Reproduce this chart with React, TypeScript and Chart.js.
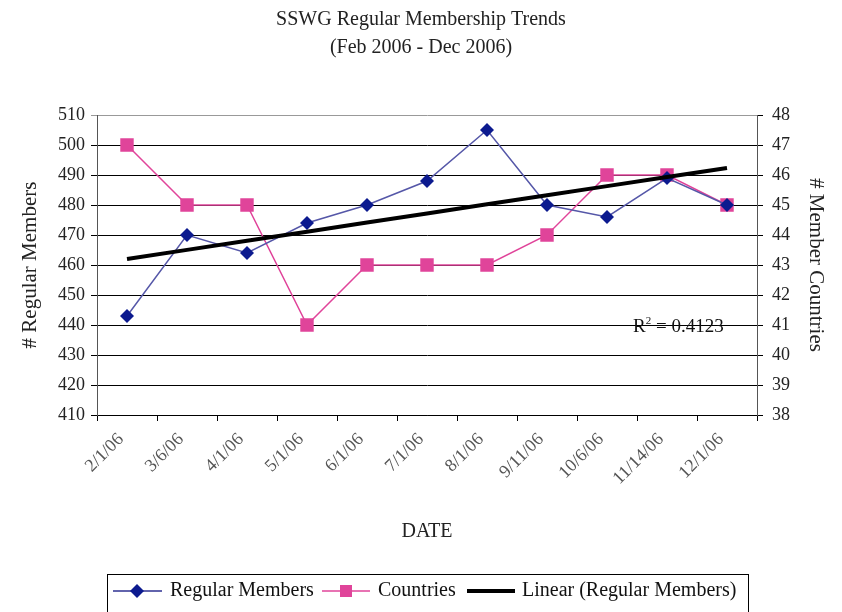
import React, { useEffect, useRef } from "react";
import { Chart, registerables } from "chart.js";

Chart.register(...registerables);

const categories = ["2/1/06", "3/6/06", "4/1/06", "5/1/06", "6/1/06", "7/1/06", "8/1/06", "9/11/06", "10/6/06", "11/14/06", "12/1/06"];
const regularMembers = [443, 470, 464, 474, 480, 488, 505, 480, 476, 489, 480];
const countries = [47, 45, 45, 41, 43, 43, 43, 44, 46, 46, 45];
const r2Label = "0.4123";

const SERIF = "'Liberation Serif', 'DejaVu Serif', serif";

function linearFit(ys: number[]): number[] {
  const n = ys.length;
  const xs = ys.map((_, i) => i + 1);
  const mx = xs.reduce((a, b) => a + b, 0) / n;
  const my = ys.reduce((a, b) => a + b, 0) / n;
  let sxy = 0, sxx = 0;
  for (let i = 0; i < n; i++) { sxy += (xs[i] - mx) * (ys[i] - my); sxx += (xs[i] - mx) ** 2; }
  const b = sxy / sxx;
  const a = my - b * mx;
  return xs.map((x) => a + b * x);
}

const trend = linearFit(regularMembers);

const legendPlugin = {
  id: "customLegend",
  afterDraw(chart: any) {
    const ctx = chart.ctx as CanvasRenderingContext2D;
    ctx.save();
    ctx.strokeStyle = "#000";
    ctx.lineWidth = 1;
    ctx.strokeRect(107.5, 574.5, 641, 45);
    ctx.font = `20px ${SERIF}`;
    ctx.fillStyle = "#111";
    ctx.textBaseline = "middle";
    const cy = 591;
    // item 1
    ctx.strokeStyle = "#2e3192"; ctx.lineWidth = 1.5;
    ctx.beginPath(); ctx.moveTo(113, cy); ctx.lineTo(162, cy); ctx.stroke();
    ctx.fillStyle = "#0c1a8f";
    ctx.beginPath(); ctx.moveTo(130, cy); ctx.lineTo(137, cy - 7); ctx.lineTo(144, cy); ctx.lineTo(137, cy + 7); ctx.closePath(); ctx.fill();
    ctx.fillStyle = "#111";
    ctx.fillText("Regular Members", 170, cy);
    // item 2
    ctx.strokeStyle = "#e0449a"; ctx.lineWidth = 1.5;
    ctx.beginPath(); ctx.moveTo(322, cy); ctx.lineTo(370, cy); ctx.stroke();
    ctx.fillStyle = "#e0449a";
    ctx.fillRect(340, cy - 6, 12, 12);
    ctx.fillStyle = "#111";
    ctx.fillText("Countries", 378, cy);
    // item 3
    ctx.strokeStyle = "#000"; ctx.lineWidth = 4;
    ctx.beginPath(); ctx.moveTo(467, cy); ctx.lineTo(515, cy); ctx.stroke();
    ctx.fillText("Linear (Regular Members)", 522, cy);
    ctx.restore();
  },
};

const r2Plugin = {
  id: "r2Label",
  afterDatasetsDraw(chart: any) {
    const ctx = chart.ctx as CanvasRenderingContext2D;
    const y = chart.scales.y;
    ctx.save();
    ctx.font = `19px ${SERIF}`;
    ctx.fillStyle = "#111";
    ctx.textBaseline = "middle";
    ctx.textAlign = "left";
    const px = 633;
    const py = y.getPixelForValue(440) + 2;
    ctx.fillText("R", px, py);
    const w = ctx.measureText("R").width;
    ctx.font = `11px ${SERIF}`;
    ctx.fillText("2", px + w, py - 6);
    const w2 = ctx.measureText("2").width;
    ctx.font = `19px ${SERIF}`;
    ctx.fillText(" = " + r2Label, px + w + w2, py);
    ctx.restore();
  },
};

export default function App() {
  const ref = useRef<HTMLCanvasElement | null>(null);
  useEffect(() => {
    document.body.style.margin = "0";
    const canvas = ref.current!;
    const chart = new Chart(canvas, {
      type: "line",
      data: {
        labels: categories,
        datasets: [
          {
            label: "Regular Members",
            data: regularMembers,
            yAxisID: "y",
            borderColor: "#5557a8",
            borderWidth: 1.5,
            pointStyle: "rectRot",
            pointRadius: 7,
            pointBackgroundColor: "#0c1a8f",
            pointBorderColor: "#0c1a8f",
            pointBorderWidth: 0,
            tension: 0,
            order: 2,
          },
          {
            label: "Countries",
            data: countries,
            yAxisID: "y2",
            borderColor: "#e0449a",
            borderWidth: 1.5,
            pointStyle: "rect",
            pointRadius: 9.5,
            pointBackgroundColor: "#e0449a",
            pointBorderColor: "#e0449a",
            pointBorderWidth: 0,
            tension: 0,
            order: 3,
          },
          {
            label: "Linear (Regular Members)",
            data: trend,
            yAxisID: "y",
            borderColor: "#000",
            borderWidth: 4,
            pointRadius: 0,
            tension: 0,
            order: 1,
          },
        ],
      },
      options: {
        responsive: false,
        animation: false,
        events: [],
        layout: { padding: { left: 0, right: 0, top: 0, bottom: 45 } },
        plugins: {
          legend: { display: false },
          tooltip: { enabled: false },
          title: {
            display: true,
            text: ["SSWG Regular Membership Trends", "(Feb 2006 - Dec 2006)"],
            color: "#222",
            font: { family: SERIF, size: 20, weight: "normal", lineHeight: 1.4 },
            padding: { top: 6, bottom: 53 },
          },
        },
        scales: {
          x: {
            type: "category",
            offset: true,
            grid: { offset: true, drawOnChartArea: false, drawTicks: true, tickLength: 6, color: "#000" },
            border: { color: "#000", width: 1 },
            ticks: {
              maxRotation: 45,
              minRotation: 45,
              autoSkip: false,
              padding: 8,
              labelOffset: -6,
              color: "#555",
              font: { family: SERIF, size: 18 },
            },
            title: {
              display: true,
              text: "DATE",
              color: "#222",
              font: { family: SERIF, size: 20 },
              padding: { top: 4, bottom: 23 },
            },
            afterFit(scale: any) { scale.height = 152; },
          },
          y: {
            position: "left",
            min: 410,
            max: 510,
            grid: {
              color: (c: any) => (c.tick && c.tick.value === 510 ? "#999" : "#000"),
              tickLength: 6,
              lineWidth: 1,
            },
            border: { color: "#555", width: 1 },
            ticks: { stepSize: 10, padding: 6, color: "#222", font: { family: SERIF, size: 18 } },
            title: {
              display: true,
              text: "# Regular Members",
              color: "#222",
              font: { family: SERIF, size: 21 },
              padding: { top: 18, bottom: 0 },
            },
            afterFit(scale: any) { scale.width = 97; },
          },
          y2: {
            position: "right",
            min: 38,
            max: 48,
            grid: { drawOnChartArea: false, tickLength: 6, color: "#000" },
            border: { color: "#555", width: 1 },
            ticks: { stepSize: 1, padding: 9, color: "#222", font: { family: SERIF, size: 18 } },
            title: {
              display: true,
              text: "# Member Countries",
              color: "#222",
              font: { family: SERIF, size: 21 },
              padding: { top: 14, bottom: 0 },
            },
            afterFit(scale: any) { scale.width = 85; },
          },
        },
      },
      plugins: [r2Plugin, legendPlugin],
    } as any);
    return () => chart.destroy();
  }, []);
  return (
    <div style={{ width: 842, height: 612, background: "#fff" }}>
      <canvas ref={ref} width={842} height={612} style={{ display: "block" }} />
    </div>
  );
}
